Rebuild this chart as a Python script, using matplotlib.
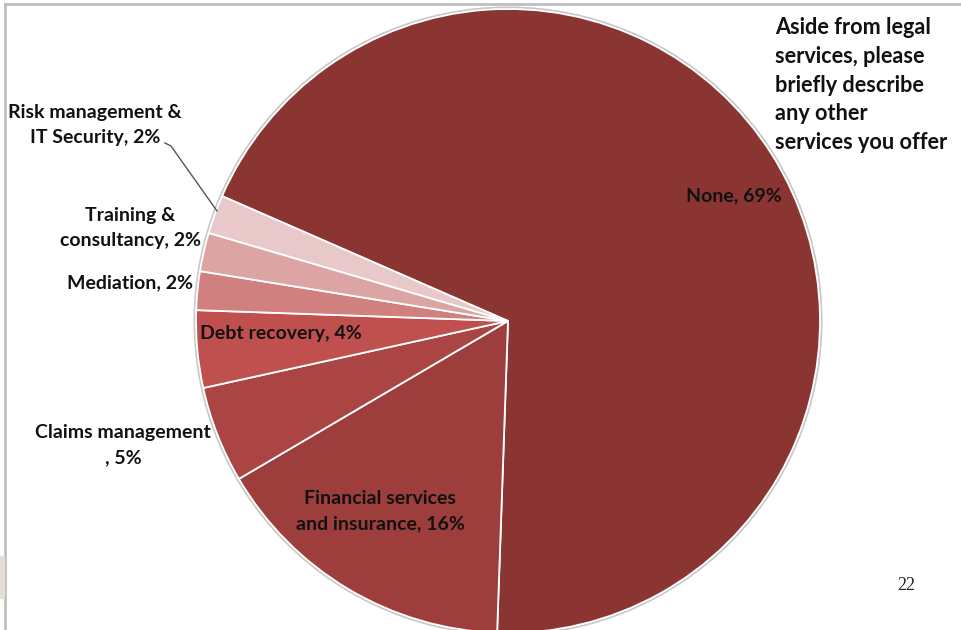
import matplotlib
matplotlib.use("Agg")
import matplotlib.pyplot as plt
from matplotlib.patches import Rectangle, Circle

categories = ["None", "Financial services\nand insurance", "Claims management\n", "Debt recovery",
              "Mediation", "Training &\nconsultancy", "Risk management &\nIT Security"]
values = [69, 16, 5, 4, 2, 2, 2]
colors = ["#8B3533", "#9E3E3C", "#AB4543", "#C0504D", "#D0807E", "#DCA5A4", "#E8C8C8"]
title_text = "Aside from legal\nservices, please\nbriefly describe\nany other\nservices you offer"
page_number = "22"

W, H = 961, 630
fig = plt.figure(figsize=(W / 100, H / 100), dpi=100)
ax = fig.add_axes([0, 0, 1, 1])

# page decorations
ax.plot([5, W], [4, 4], color="#BFBFBF", lw=2, zorder=1)
ax.plot([5, 5], [4, H], color="#BFBFBF", lw=2, zorder=1)
ax.add_patch(Rectangle((0, 556), 4, 42, color="#E6DED3", zorder=1))

cx, cy, R = 508, 321, 312
# subtle shadow outline
ax.add_patch(Circle((cx, cy), R + 1.5, facecolor="none", edgecolor="#C8C8C8", lw=1.5, zorder=1))

# with inverted y, counterclock=True renders clockwise on screen
wedges, _ = ax.pie(values, colors=colors, startangle=-156.4, counterclock=True,
                   center=(cx, cy), radius=R,
                   wedgeprops=dict(edgecolor="white", linewidth=1.3), frame=True)
ax.set_xlim(0, W)
ax.set_ylim(H, 0)
ax.set_aspect("auto")
ax.axis("off")

fam = ["Lato", "DejaVu Sans"]
fs = 14
labels = [f"{c}, {v}%" for c, v in zip(categories, values)]
pos = [(734, 196), (380, 511), (123, 445), (281, 334), (130, 283), (130, 228), (95, 125)]
for lab, (x, y) in zip(labels, pos):
    ax.text(x, y, lab, ha="center", va="center", fontsize=fs, fontweight="bold", family=fam,
            color="#111111", linespacing=1.55, zorder=5)

# leader line for Risk management
ax.plot([165, 171, 217], [143, 146, 211], color="#555555", lw=1, zorder=5)

ax.text(775, 85, title_text, ha="left", va="center", fontsize=15.6, fontweight="bold", family=fam,
        color="#111111", linespacing=1.45, zorder=5)
ax.text(906, 585, page_number, ha="center", va="center", fontsize=13, family=["Liberation Serif"],
        color="#222222", zorder=5)

fig.savefig("out.png", dpi=100)
